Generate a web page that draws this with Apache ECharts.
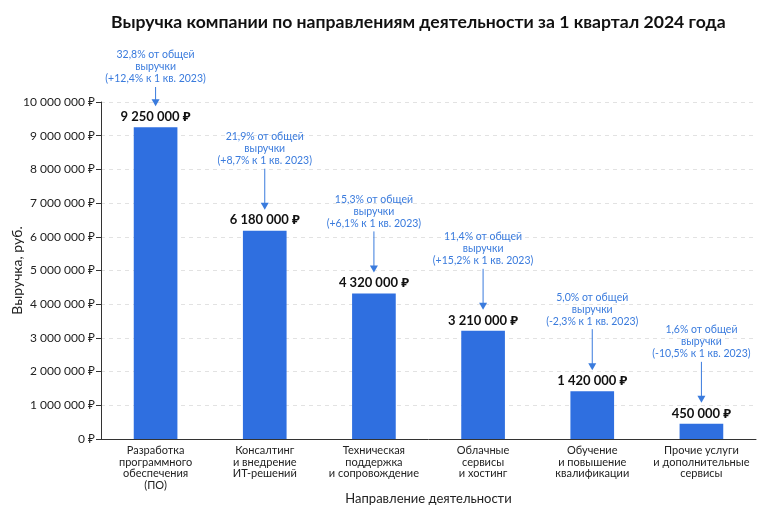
<!DOCTYPE html>
<html>
<head>
<meta charset="utf-8">
<script src="https://cdn.jsdelivr.net/npm/echarts@6/dist/echarts.min.js"></script>
<style>
  html, body { margin: 0; padding: 0; background: #fff; }
  #chart { width: 768px; height: 512px; }
</style>
</head>
<body>
<div id="chart"></div>
<script>
// data
const categories = [
    'Разработка\nпрограммного\nобеспечения\n(ПО)',
    'Консалтинг\nи внедрение\nИТ-решений',
    'Техническая\nподдержка\nи сопровождение',
    'Облачные\nсервисы\nи хостинг',
    'Обучение\nи повышение\nквалификации',
    'Прочие услуги\nи дополнительные\nсервисы'
];
const revenue = [9250000, 6180000, 4320000, 3210000, 1420000, 450000];
const shareOfTotal = ['32,8%', '21,9%', '15,3%', '11,4%', '5,0%', '1,6%'];
const changeVsQ1 = ['+12,4%', '+8,7%', '+6,1%', '+15,2%', '-2,3%', '-10,5%'];

const BAR_COLOR = '#2F6FE0';
const NOTE_COLOR = '#3A7BDD';
const FONT = 'Lato, "Noto Sans", sans-serif';

function rub(v) {
    return String(v).replace(/\B(?=(\d{3})+(?!\d))/g, ' ') + ' ₽';
}

const chart = echarts.init(document.getElementById('chart'));

const option = {
    animation: false,
    textStyle: { fontFamily: FONT },
    title: {
        text: 'Выручка компании по направлениям деятельности за 1 квартал 2024 года',
        left: 106,
        top: 8,
        textStyle: { fontSize: 17.6, fontWeight: 'bold', color: '#111', fontFamily: FONT }
    },
    grid: { left: 101, right: 12, top: 102, bottom: 73, outerBoundsMode: 'none' },
    xAxis: {
        type: 'category',
        data: categories,
        name: 'Направление деятельности',
        nameLocation: 'middle',
        nameGap: 53,
        nameMoveOverlap: false,
        nameTextStyle: { fontSize: 13, color: '#222' },
        axisLine: { lineStyle: { color: '#333' } },
        axisTick: { show: false },
        axisLabel: { fontSize: 11, color: '#222', lineHeight: 11.5, margin: 6, interval: 0 }
    },
    yAxis: {
        type: 'value',
        min: 0,
        max: 10000000,
        interval: 1000000,
        name: 'Выручка, руб.',
        nameLocation: 'middle',
        nameGap: 77,
        nameMoveOverlap: false,
        nameTextStyle: { fontSize: 14, color: '#222' },
        axisLine: { show: true, lineStyle: { color: '#333' } },
        axisTick: { show: true, length: 5, lineStyle: { color: '#333' } },
        axisLabel: { fontSize: 12, color: '#222', margin: 6, formatter: rub },
        splitLine: { lineStyle: { color: '#e2e2e2', type: [4, 4] } }
    },
    series: [
        {
            name: 'Выручка',
            type: 'bar',
            data: revenue,
            barWidth: '40%',
            itemStyle: { color: BAR_COLOR },
            label: {
                show: true,
                position: 'top',
                distance: 4,
                fontSize: 13,
                fontWeight: 'bold',
                color: '#111',
                formatter: p => rub(p.value)
            }
        },
        {
            // blue notes with arrows above each bar
            name: 'Доля',
            type: 'custom',
            silent: true,
            z: 5,
            data: revenue.map((v, i) => [i, v]),
            encode: { x: 0, y: 1 },
            renderItem: function (params, api) {
                const i = api.value(0);
                const pt = api.coord([i, api.value(1)]);
                const x = pt[0];
                const tip = pt[1] - 21;
                const top = Math.max(pt[1] - 62, params.coordSys.y - 15);
                return {
                    type: 'group',
                    children: [
                        {
                            type: 'line',
                            shape: { x1: x, y1: top, x2: x, y2: tip - 6 },
                            style: { stroke: NOTE_COLOR, lineWidth: 1 }
                        },
                        {
                            type: 'polygon',
                            shape: { points: [[x - 4, tip - 7], [x + 4, tip - 7], [x, tip]] },
                            style: { fill: NOTE_COLOR }
                        },
                        {
                            type: 'text',
                            style: {
                                text: shareOfTotal[i] + ' от общей\nвыручки\n(' + changeVsQ1[i] + ' к 1 кв. 2023)',
                                x: x,
                                y: top - 2,
                                textAlign: 'center',
                                textVerticalAlign: 'bottom',
                                fill: NOTE_COLOR,
                                fontSize: 10.5,
                                lineHeight: 12,
                                fontFamily: FONT
                            }
                        }
                    ]
                };
            }
        }
    ]
};

chart.setOption(option);
</script>
</body>
</html>
